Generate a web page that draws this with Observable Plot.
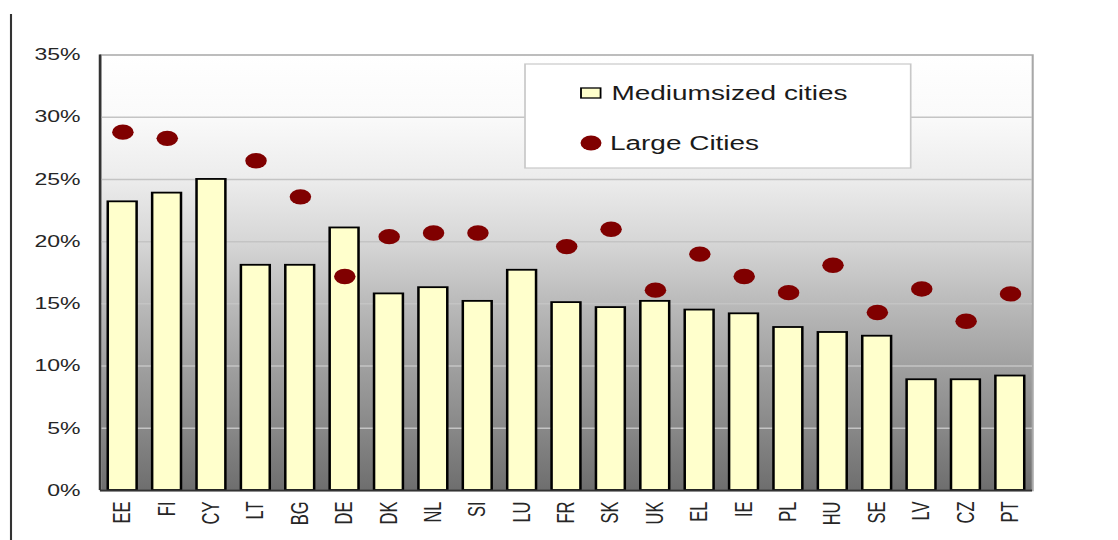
<!DOCTYPE html>
<html>
<head>
<meta charset="utf-8">
<script src="https://cdn.jsdelivr.net/npm/d3@7"></script>
<script src="https://cdn.jsdelivr.net/npm/@observablehq/plot@0.6"></script>
<style>
  html, body { margin: 0; padding: 0; background: #fff; }
  #chart { width: 1118px; height: 540px; overflow: hidden; }
</style>
</head>
<body>
<div id="chart"></div>
<script>
// ---- data (values in %) ----
const countries = ["EE","FI","CY","LT","BG","DE","DK","NL","SI","LU","FR","SK","UK","EL","IE","PL","HU","SE","LV","CZ","PT"];
const mediumCities = [23.2,23.9,25.0,18.1,18.1,21.1,15.8,16.3,15.2,17.7,15.1,14.7,15.2,14.5,14.2,13.1,12.7,12.4,8.9,8.9,9.2];
const largeCities  = [28.8,28.3,null,26.5,23.6,17.2,20.4,20.7,20.7,null,19.6,21.0,16.1,19.0,17.2,15.9,18.1,14.3,16.2,13.6,15.8];
const yTicks = [0,5,10,15,20,25,30,35];
const seriesNames = ["Mediumsized cities", "Large Cities"];

const rows = countries.map((c, i) => ({country: c, medium: mediumCities[i], large: largeCities[i]}));

// The reference is horizontally stretched: draw at 800 wide, then stretch to 1118.
const W = 800, H = 540, OUTW = 1118;
const k = OUTW / W;
const mL = 100 / k, mR = W - 1032 / k, mT = 54.5, mB = 50;
const step = (W - mL - mR) / countries.length;
const barInset = step * 0.35 / 2;

const chart = Plot.plot({
  width: W,
  height: H,
  marginLeft: mL,
  marginRight: mR,
  marginTop: mT,
  marginBottom: mB,
  style: {fontFamily: "'Liberation Sans', Arial, sans-serif", fontSize: "16.5px", color: "#262626", background: "#fff", overflow: "visible"},
  x: {domain: countries, padding: 0, round: false, label: null, tickSize: 0, tickPadding: 11, tickRotate: -90},
  y: {domain: [0, 35], ticks: yTicks, tickFormat: d => d + "%", label: null, tickSize: 0, tickPadding: 14.4},
  marks: [
    Plot.frame({fill: "#cccccc", stroke: "#a8a8a8", strokeWidth: 1.5}),
    Plot.ruleY(yTicks.filter(t => t > 0 && t < 35), {stroke: "#c4c4c4", strokeWidth: 1.5}),
    Plot.barY(rows, {x: "country", y: "medium", fill: "#ffffcc", stroke: "#000", strokeWidth: 1.8, insetLeft: barInset, insetRight: barInset}),
    Plot.dot(rows.filter(d => d.large != null), {x: "country", y: "large", r: 7.7, fill: "#800000", stroke: "none"}),
    Plot.ruleY([0], {stroke: "#333", strokeWidth: 2})
  ]
});

const ns = "http://www.w3.org/2000/svg";
function el(tag, attrs, parent) {
  const e = document.createElementNS(ns, tag);
  for (const a in attrs) e.setAttribute(a, attrs[a]);
  if (parent) parent.appendChild(e);
  return e;
}

// gradient background
const defs = el("defs", {});
chart.insertBefore(defs, chart.firstChild);
const grad = el("linearGradient", {id: "bgGrad", x1: 0, y1: 0, x2: 0, y2: 1}, defs);
[[0, "#ffffff"], [0.14, "#fafafa"], [0.286, "#ececec"], [0.43, "#d6d6d6"], [0.57, "#bababa"], [0.714, "#a0a0a0"], [0.857, "#888888"], [1, "#6e6e6e"]]
  .forEach(([o, c]) => el("stop", {offset: o, "stop-color": c}, grad));
const f = chart.querySelector('[aria-label="frame"]');
const frameRect = f && (f.tagName.toLowerCase() === "rect" ? f : f.querySelector("rect"));
if (frameRect) frameRect.setAttribute("fill", "url(#bgGrad)");

// dark left axis line of plot area
el("line", {x1: mL, x2: mL, y1: mT, y2: H - mB, stroke: "#333", "stroke-width": 1.8}, chart);

// left vertical rule of the page
el("line", {x1: 11 / k, x2: 11 / k, y1: 14, y2: H, stroke: "#333", "stroke-width": 1.5}, chart);

// legend
const lg = el("g", {"font-family": "'Liberation Sans', Arial, sans-serif", "font-size": "20px", fill: "#1a1a1a", "text-anchor": "start"}, chart);
el("rect", {x: 525 / k, y: 64, width: (910.7 - 525) / k, height: 104, fill: "#fff", stroke: "#c8c8c8", "stroke-width": 1.2}, lg);
el("rect", {x: 581 / k, y: 88, width: 14, height: 10, fill: "#ffffcc", stroke: "#000", "stroke-width": 1.3}, lg);
const t1 = el("text", {x: 611.5 / k, y: 100, "text-anchor": "start"}, lg); t1.textContent = seriesNames[0];
el("circle", {cx: 591 / k, cy: 143, r: 7.5, fill: "#800000"}, lg);
const t2 = el("text", {x: 610 / k, y: 150.5, "text-anchor": "start"}, lg); t2.textContent = seriesNames[1];

// stretch horizontally
chart.setAttribute("viewBox", `0 0 ${W} ${H}`);
chart.setAttribute("width", OUTW);
chart.setAttribute("height", H);
chart.setAttribute("preserveAspectRatio", "none");
chart.style.maxWidth = "none";

document.getElementById("chart").appendChild(chart);
</script>
</body>
</html>
